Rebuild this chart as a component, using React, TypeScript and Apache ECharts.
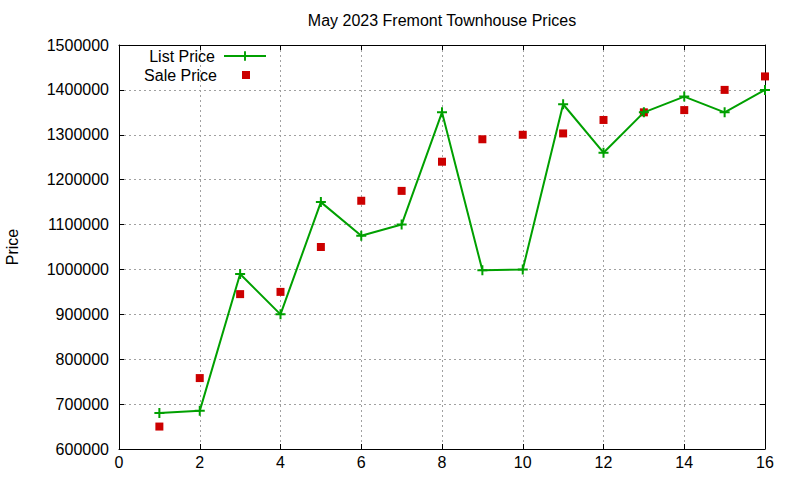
import React, { useEffect, useRef } from "react";
import * as echarts from "echarts";

const xValues = [1, 2, 3, 4, 5, 6, 7, 8, 9, 10, 11, 12, 13, 14, 15, 16];
const listPrice = [680000, 685000, 990000, 900000, 1150000, 1075000, 1100000, 1350000, 998000, 1000000, 1368000, 1260000, 1350000, 1385000, 1350000, 1400000];
const salePrice = [650000, 758000, 945000, 950000, 1050000, 1153000, 1175000, 1240000, 1290000, 1300000, 1303000, 1333000, 1350000, 1355000, 1400000, 1430000];
const titleText = "May 2023 Fremont Townhouse Prices";
const yName = "Price";
const seriesNames = ["List Price", "Sale Price"];

const FONT = "Liberation Sans, Arial, sans-serif";
const GREEN = "#00a000";
const RED = "#cc0000";
const PLUS = "path://M4,0H6V4H10V6H6V10H4V6H0V4H4Z";

export default function App() {
  const ref = useRef<HTMLDivElement>(null);
  useEffect(() => {
    if (!ref.current) return;
    const chart = echarts.init(ref.current, null, { renderer: "svg" });
    const grid = { left: 119, right: 35, top: 45, bottom: 31, containLabel: false, outerBoundsMode: "none" };
    const tick = { show: true, inside: true, length: 5, lineStyle: { color: "#000", width: 1 } };
    const axLine = { show: true, onZero: false, lineStyle: { color: "#000", width: 1 } };
    const split = { show: true, lineStyle: { color: "#a0a0a0", width: 1, type: [2, 3] } };
    const xBase = { type: "value", min: 0, max: 16, interval: 2 };
    const yBase = { type: "value", min: 600000, max: 1500000, interval: 100000 };
    chart.setOption({
      animation: false,
      backgroundColor: "#fff",
      grid,
      graphic: [
        {
          type: "text",
          x: 442,
          y: 20,
          style: {
            text: titleText,
            font: `16px ${FONT}`,
            fill: "#000",
            align: "center",
            verticalAlign: "middle",
          },
        },
      ],
      legend: [
        {
          orient: "vertical",
          align: "right",
          right: 533,
          top: 48,
          padding: 0,
          itemWidth: 42,
          itemHeight: 12,
          data: [seriesNames[0]],
          textStyle: { fontFamily: FONT, fontSize: 16, lineHeight: 14, color: "#000", padding: [0, 4, 0, 0] },
        },
        {
          orient: "vertical",
          align: "right",
          right: 550,
          top: 67,
          padding: 0,
          itemWidth: 8,
          itemHeight: 8,
          icon: "rect",
          data: [seriesNames[1]],
          textStyle: { fontFamily: FONT, fontSize: 16, lineHeight: 14, color: "#000", padding: [0, 20, 0, 0] },
        },
      ],
      xAxis: [
        {
          ...xBase,
          position: "bottom",
          axisLine: axLine,
          axisTick: tick,
          splitLine: split,
          axisLabel: { fontFamily: FONT, fontSize: 16, color: "#000", margin: 5 },
        },
        {
          ...xBase,
          position: "top",
          axisLine: axLine,
          axisTick: tick,
          splitLine: { show: false },
          axisLabel: { show: false },
        },
      ],
      yAxis: [
        {
          ...yBase,
          position: "left",
          name: yName,
          nameLocation: "middle",
          nameGap: 99,
          nameTextStyle: { fontFamily: FONT, fontSize: 16, color: "#000" },
          axisLine: axLine,
          axisTick: tick,
          splitLine: split,
          axisLabel: {
            fontFamily: FONT,
            fontSize: 16,
            color: "#000",
            margin: 10,
            formatter: (v: number) => String(Math.round(v)),
          },
        },
        {
          ...yBase,
          position: "right",
          axisLine: axLine,
          axisTick: tick,
          splitLine: { show: false },
          axisLabel: { show: false },
        },
      ],
      series: [
        {
          name: seriesNames[0],
          type: "line",
          xAxisIndex: 0,
          yAxisIndex: 0,
          data: xValues.map((x, i) => [x, listPrice[i]]),
          symbol: PLUS,
          symbolSize: 10,
          showSymbol: true,
          lineStyle: { color: GREEN, width: 2 },
          itemStyle: { color: GREEN, opacity: 1 },
          z: 3,
        },
        {
          name: seriesNames[1],
          type: "scatter",
          xAxisIndex: 0,
          yAxisIndex: 0,
          data: xValues.map((x, i) => [x, salePrice[i]]),
          symbol: "rect",
          symbolSize: 8,
          itemStyle: { color: RED, opacity: 1 },
          z: 2,
        },
      ],
    });
    return () => chart.dispose();
  }, []);
  return (
    <div
      ref={ref}
      style={{ position: "fixed", left: 0, top: 0, width: 800, height: 480, background: "#fff" }}
    />
  );
}
